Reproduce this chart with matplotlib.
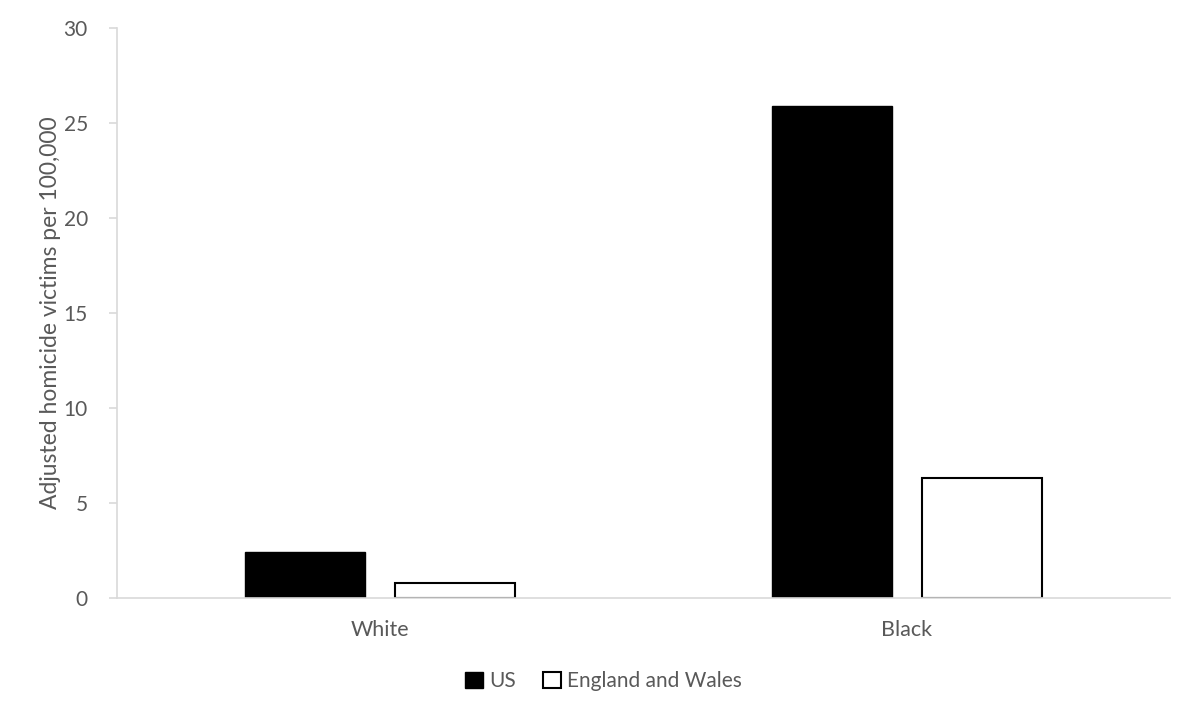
import numpy as np
import matplotlib.pyplot as plt
from matplotlib.patches import Patch

# data
groups = ['White', 'Black']
us_rates = [2.42, 25.9]
ew_rates = [0.8, 6.33]
y_ticks = [0, 5, 10, 15, 20, 25, 30]

plt.rcParams['font.family'] = ['Lato', 'DejaVu Sans']
text_grey = '#595959'
axis_grey = '#d9d9d9'

fig = plt.figure(figsize=(12, 7.2), dpi=100)
ax = fig.add_axes([0.0975, 0.1694, 0.8775, 0.7916])

x = np.arange(len(groups))
width = 0.228
offset = 0.1425

ax.bar(x - offset, us_rates, width, color='black', edgecolor='black', linewidth=1, label='US')
ax.bar(x + offset, ew_rates, width, color='white', edgecolor='black', linewidth=1.5, label='England and Wales')

ax.set_xlim(-0.5, 1.5)
ax.set_ylim(0, 30)
ax.set_yticks(y_ticks)
ax.set_xticks(x)
ax.set_xticklabels(groups)

for side in ['top', 'right']:
    ax.spines[side].set_visible(False)
for side in ['left', 'bottom']:
    ax.spines[side].set_color(axis_grey)
    ax.spines[side].set_linewidth(1.2)

ax.tick_params(axis='y', colors=axis_grey, labelcolor=text_grey, labelsize=15, length=6, width=1.2, pad=15)
ax.tick_params(axis='x', length=0, labelcolor=text_grey, labelsize=15.5, pad=16)

ax.set_ylabel('Adjusted homicide victims per 100,000', color=text_grey, fontsize=16.5, labelpad=2)

handles = [Patch(facecolor='black', edgecolor='black', label='US'),
           Patch(facecolor='white', edgecolor='black', linewidth=1.5, label='England and Wales')]
fig.legend(handles=handles, loc='center', bbox_to_anchor=(0.503, 0.054), ncol=2, frameon=False,
           fontsize=15, labelcolor=text_grey, handlelength=0.85, handleheight=0.85,
           handletextpad=0.3, columnspacing=1.3)

fig.savefig('out.png', dpi=100)
